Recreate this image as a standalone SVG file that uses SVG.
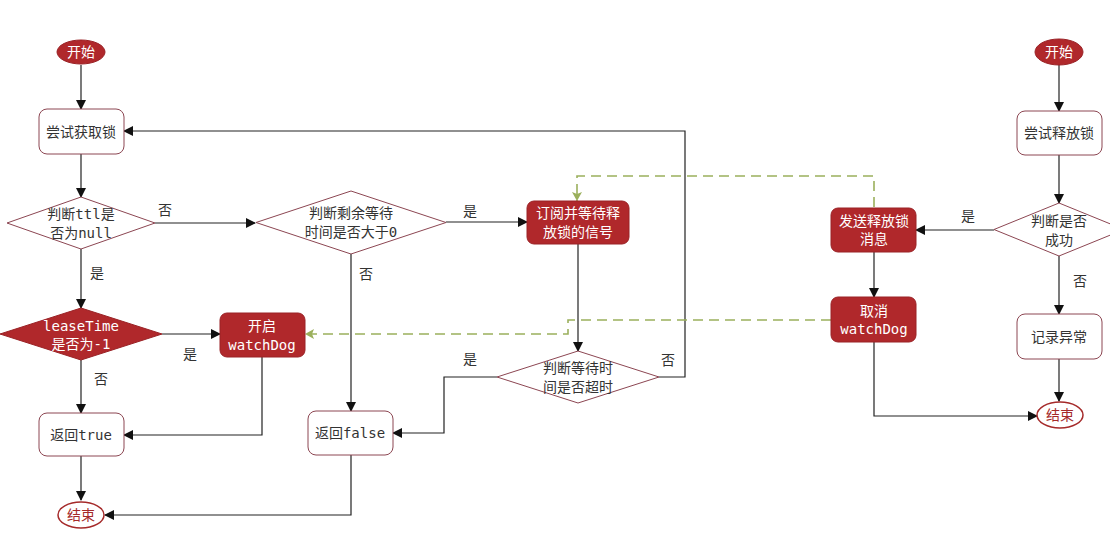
<svg xmlns="http://www.w3.org/2000/svg" width="1110" height="534" viewBox="0 0 1110 534">
<defs>
<marker id="ah" markerWidth="10" markerHeight="10" refX="9" refY="5" orient="auto" markerUnits="userSpaceOnUse">
<path d="M0,0 L10,5 L0,10 Z" fill="#111"/>
</marker>
<marker id="ag" markerWidth="12" markerHeight="12" refX="10" refY="5" orient="auto" markerUnits="userSpaceOnUse">
<path d="M1,0 L10,5 L1,10 L3,5 Z" fill="#9bb05c"/>
</marker>
</defs>
<style>
text{font-family:"DejaVu Sans Mono","Noto Sans CJK SC",monospace;font-size:14px;text-anchor:middle;dominant-baseline:central}
.n{fill:#fff;stroke:#8c4652;stroke-width:1}
.d{fill:#b0282b;stroke:#9a2226;stroke-width:1}
.t{fill:#333}
.w{fill:#fff}
.r{fill:#a52a2a}
.c{fill:none;stroke:#222;stroke-width:1.2;marker-end:url(#ah)}
.cn{fill:none;stroke:#222;stroke-width:1.2}
.g{fill:none;stroke:#9bb05c;stroke-width:1.6;stroke-dasharray:10,6;marker-end:url(#ag)}
.l{fill:#333}
</style>
<rect width="1110" height="534" fill="#fff"/>
<g id="connectors">
<path class="c" d="M81,65 V109"/>
<path class="c" d="M81,154 V197"/>
<path class="c" d="M155,223 H255"/>
<path class="c" d="M446,222 H527"/>
<path class="c" d="M81,249 V308"/>
<path class="c" d="M162,334 H220"/>
<path class="c" d="M81,360 V413"/>
<path class="c" d="M262,357 V435 H124"/>
<path class="c" d="M81,456 V500"/>
<path class="c" d="M351,254 V411"/>
<path class="c" d="M351,455 V515 H105"/>
<path class="c" d="M578,244 V351"/>
<path class="c" d="M497,377 H444 V433 H393"/>
<path class="c" d="M659,377 H685 V131 H124"/>
<path class="c" d="M1059,65 V111"/>
<path class="c" d="M1059,155 V203"/>
<path class="c" d="M994,230 H916"/>
<path class="c" d="M874,252 V297"/>
<path class="c" d="M1059,256 V314"/>
<path class="c" d="M1059,359 V401"/>
<path class="c" d="M874,342 V416 H1037"/>
<path class="g" d="M874,207 V176 H577 V201"/>
<path class="g" d="M831,320 H568 V334 H305"/>
<text class="l" x="165" y="210">否</text>
<text class="l" x="470" y="211">是</text>
<text class="l" x="97" y="273">是</text>
<text class="l" x="366" y="274">否</text>
<text class="l" x="190" y="354">是</text>
<text class="l" x="101" y="379">否</text>
<text class="l" x="470" y="359">是</text>
<text class="l" x="668" y="360">否</text>
<text class="l" x="968" y="216">是</text>
<text class="l" x="1080" y="281">否</text>
</g>
<g id="start1"><ellipse class="d" cx="81" cy="52" rx="24" ry="12"/><text class="w" x="81" y="52">开始</text></g>
<g id="tryLock"><rect class="n" x="39" y="109" width="85" height="45" rx="8"/><text class="t" x="81" y="131.5">尝试获取锁</text></g>
<g id="ttlNull"><polygon class="n" points="81,197 155,223 81,249 7,223"/><text class="t" x="81" y="214">判断ttl是</text><text class="t" x="81" y="233">否为null</text></g>
<g id="remain"><polygon class="n" points="351,191 446,222.5 351,254 256,222.5"/><text class="t" x="351" y="213">判断剩余等待</text><text class="t" x="351" y="232">时间是否大于0</text></g>
<g id="subscribe"><rect class="d" x="527" y="201" width="102" height="43" rx="7"/><text class="w" x="578" y="213">订阅并等待释</text><text class="w" x="578" y="232">放锁的信号</text></g>
<g id="leaseTime"><polygon class="d" points="81,308 162,334 81,360 0,334"/><text class="w" x="81" y="326">leaseTime</text><text class="w" x="81" y="344">是否为-1</text></g>
<g id="watchDogOn"><rect class="d" x="220" y="313" width="85" height="44" rx="7"/><text class="w" x="262" y="326">开启</text><text class="w" x="262" y="345">watchDog</text></g>
<g id="retTrue"><rect class="n" x="39" y="413" width="85" height="43" rx="8"/><text class="t" x="81" y="435">返回true</text></g>
<g id="end1"><ellipse fill="#fff" stroke="#a52a2a" stroke-width="1.5" cx="81" cy="515" rx="23" ry="13"/><text class="r" x="81" y="515">结束</text></g>
<g id="retFalse"><rect class="n" x="308" y="411" width="85" height="44" rx="8"/><text class="t" x="350" y="433">返回false</text></g>
<g id="timeout"><polygon class="n" points="578,351 659,377 578,403 497,377"/><text class="t" x="578" y="368">判断等待时</text><text class="t" x="578" y="387">间是否超时</text></g>
<g id="start2"><ellipse class="d" cx="1059" cy="52" rx="24" ry="13"/><text class="w" x="1059" y="52">开始</text></g>
<g id="tryRelease"><rect class="n" x="1017" y="111" width="85" height="44" rx="8"/><text class="t" x="1059" y="133">尝试释放锁</text></g>
<g id="success"><polygon class="n" points="1059,203 1124,229.5 1059,256 994,229.5"/><text class="t" x="1059" y="221">判断是否</text><text class="t" x="1059" y="240">成功</text></g>
<g id="sendMsg"><rect class="d" x="831" y="208" width="85" height="44" rx="7"/><text class="w" x="874" y="221">发送释放锁</text><text class="w" x="874" y="239">消息</text></g>
<g id="cancelWD"><rect class="d" x="831" y="297" width="85" height="45" rx="7"/><text class="w" x="874" y="311">取消</text><text class="w" x="874" y="329">watchDog</text></g>
<g id="logErr"><rect class="n" x="1017" y="314" width="85" height="45" rx="8"/><text class="t" x="1059" y="337">记录异常</text></g>
<g id="end2"><ellipse fill="#fff" stroke="#a52a2a" stroke-width="1.5" cx="1060" cy="415" rx="23" ry="13"/><text class="r" x="1060" y="415">结束</text></g>
</svg>
